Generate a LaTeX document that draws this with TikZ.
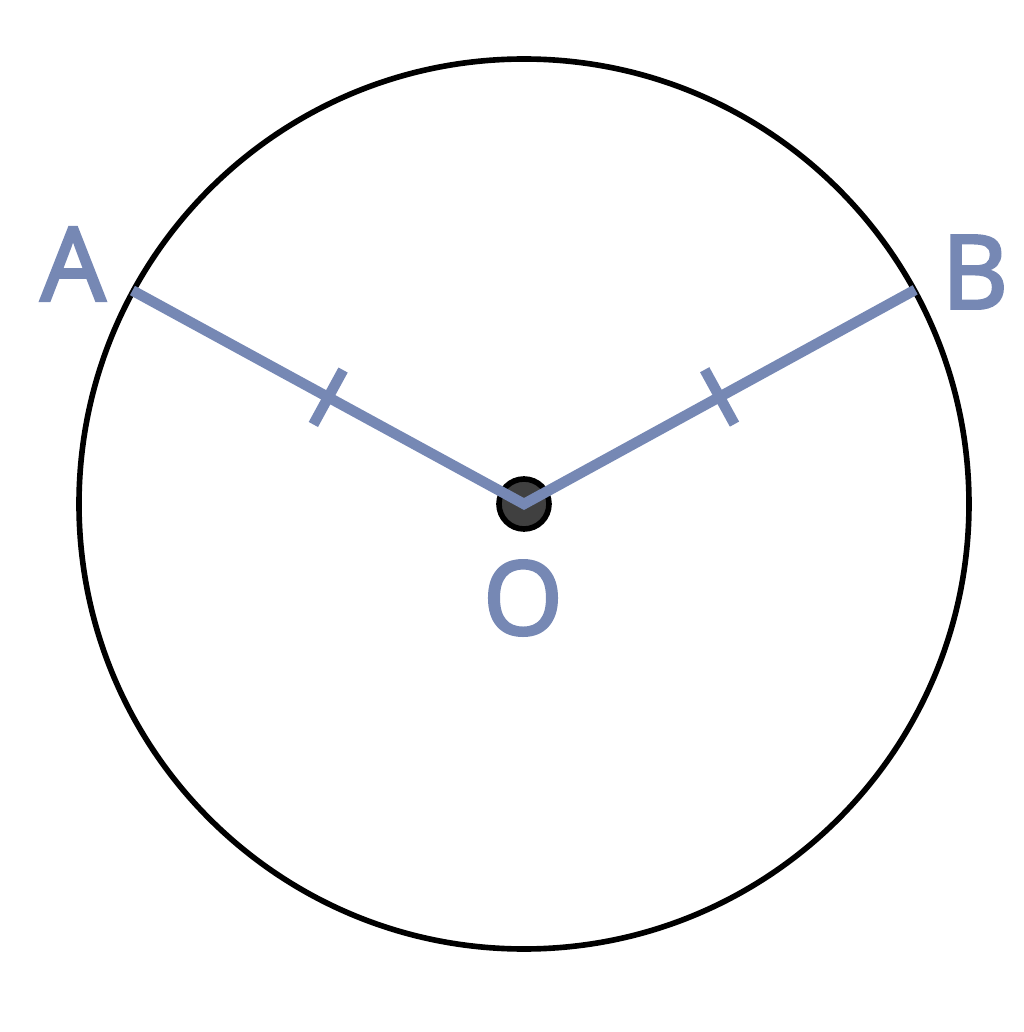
\documentclass[tikz,border=0pt]{standalone}
\usepackage{fontspec}
\setmainfont{Open Sans}
\newfontfamily\labelfont{Open Sans}[FakeBold=3]
\usetikzlibrary{calc}
\definecolor{segblue}{RGB}{118,136,180}
\tikzset{%
  SegStyle/.style={draw=segblue,line width=3pt},
  LabelStyle/.style={text=segblue,font=\labelfont\fontsize{29}{29}\selectfont,inner sep=0pt}
}
\begin{document}
\begin{tikzpicture}[x=0.01cm,y=0.01cm]
\useasboundingbox (0,0) rectangle (1024,1032);

\coordinate (O) at (524,528);
\coordinate (A) at ($(O)+(151.4:446)$);
\coordinate (B) at ($(O)+(28.7:446)$);

\draw [line width=1.6pt] (O) circle (445);

\node (dot) [circle,draw=black,fill=black!75,line width=1.6pt,minimum size=0.5cm,inner sep=0pt] at (O) {};

\draw [SegStyle,line join=miter] (A) -- (O) -- (B);

% tick marks
\draw [SegStyle] ($(A)!0.5!(O)!0.31cm!90:(O)$) -- ($(A)!0.5!(O)!0.31cm!-90:(O)$);
\draw [SegStyle] ($(B)!0.5!(O)!0.31cm!90:(O)$) -- ($(B)!0.5!(O)!0.31cm!-90:(O)$);

\node (lA) [LabelStyle] at (73,768) {A};
\node (lB) [LabelStyle] at (975,760) {B};
\node (lO) [LabelStyle] at (523,434) {O};
\end{tikzpicture}
\end{document}
